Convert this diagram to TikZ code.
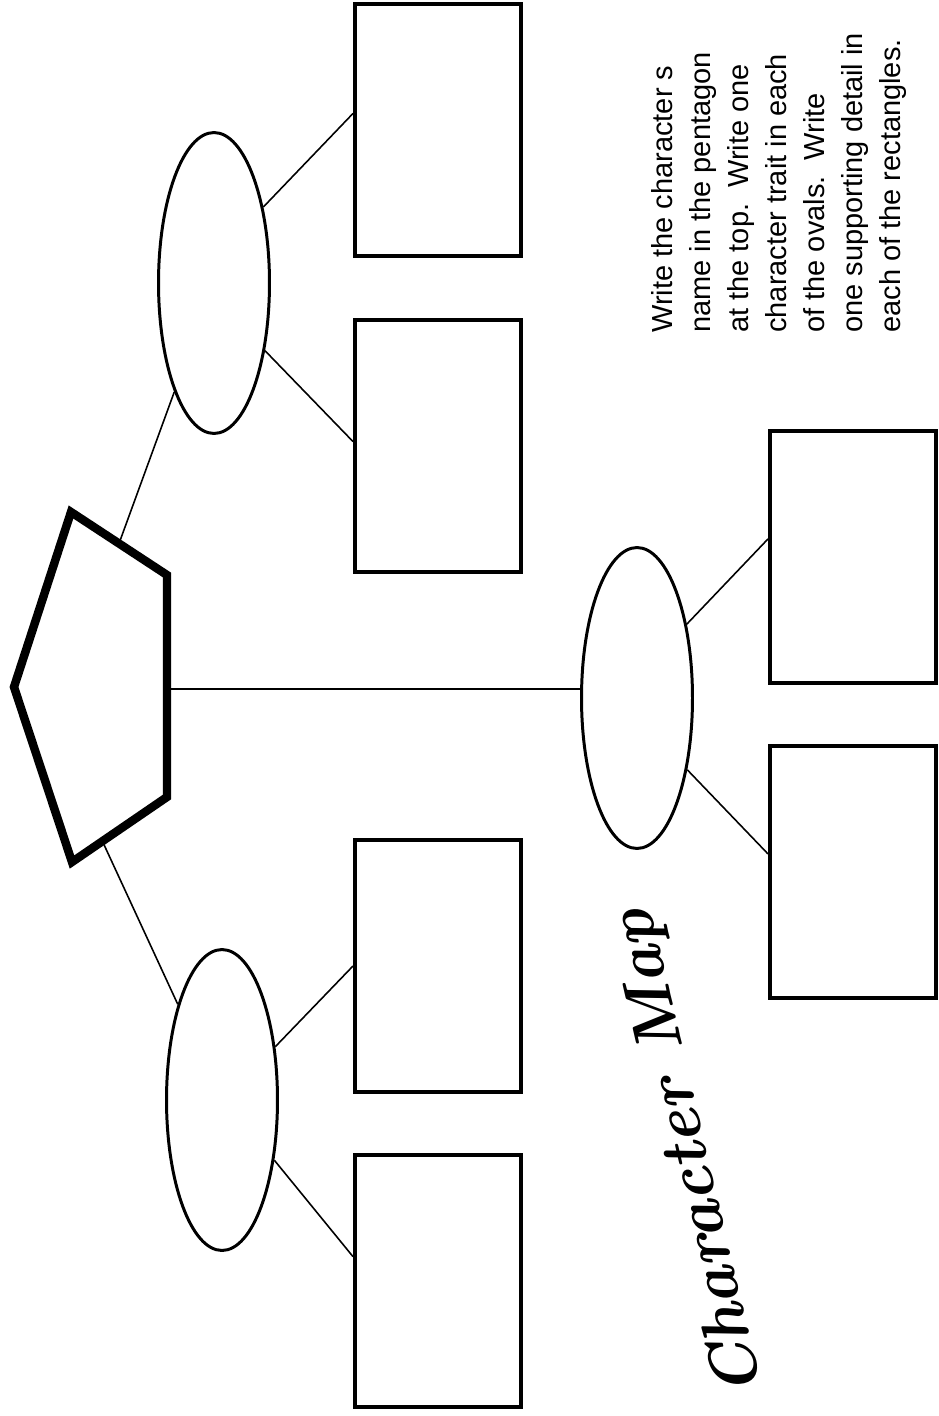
\documentclass[tikz,border=0pt]{standalone}
\usepackage{fontspec}
\newfontfamily\notefont{Liberation Sans}
\usetikzlibrary{shapes.geometric, calc}

\tikzset{
  traitoval/.style={draw, ellipse, line width=1.7pt, minimum width=2.22cm,
                    minimum height=6.02cm, inner sep=0pt},
  detailbox/.style={draw, rectangle, line width=2.3pt, minimum width=3.32cm,
                    minimum height=5.04cm, inner sep=0pt},
  link/.style={line width=0.9pt},
}

\begin{document}
\begin{tikzpicture}[x=0.02cm, y=-0.02cm]
  \useasboundingbox (0,0) rectangle (938,1416);
  % pentagon for the name
  \coordinate (p1) at (71,512);
  \coordinate (p2) at (167,575);
  \coordinate (p3) at (167,797);
  \coordinate (p4) at (72,862);
  \coordinate (p5) at (14,687);
  \draw[line width=4.8pt, line join=miter] (p1) -- (p2) -- (p3) -- (p4) -- (p5) -- cycle;
  \coordinate (pU) at ($(p1)!0.5!(p2)$);
  \coordinate (pL) at ($(p4)!0.32!(p3)$);
  \coordinate (pR) at (167,689);

  % traits
  \node[traitoval] (trA) at (214,283) {};
  \node[traitoval] (trB) at (222,1100) {};
  \node[traitoval] (trC) at (637,698) {};

  % details
  \node[detailbox] (dA) at (438,130) {};
  \node[detailbox] (dB) at (438,446) {};
  \node[detailbox] (dC) at (438,966) {};
  \node[detailbox] (dD) at (438,1281) {};
  \node[detailbox] (dE) at (853,557) {};
  \node[detailbox] (dF) at (853,872) {};

  \draw[link] (pU) -- (trA);
  \draw[link] (pL) -- (trB);
  \draw[link] (pR) -- (pR -| trC.west);
  \draw[link] (trA.57) -- (dA.169);
  \draw[link] (trA.-53) -- (dB.177);
  \draw[link] (trB.45) -- (dC.west);
  \draw[link] (trB.-49) -- (dD.164);
  \draw[link] (trC.56) -- (dE.168);
  \draw[link] (trC.-55) -- (dF.168);

  \node[rotate=103, inner sep=0pt, font=\fontsize{37}{37}\selectfont\bfseries\itshape]
    (title) at (690,1152) {Character Map};

  \node[rotate=90, anchor=north west, inner sep=0pt, align=left,
        font=\notefont\fontsize{16.5}{21.6}\selectfont] (howto) at (651,333) {
    Write the character s\\
    name in the pentagon\\
    at the top.\ \ Write one\\
    character trait in each\\
    of the ovals.\ \ Write\\
    one supporting detail in\\
    each of the rectangles.
  };
\end{tikzpicture}
\end{document}
